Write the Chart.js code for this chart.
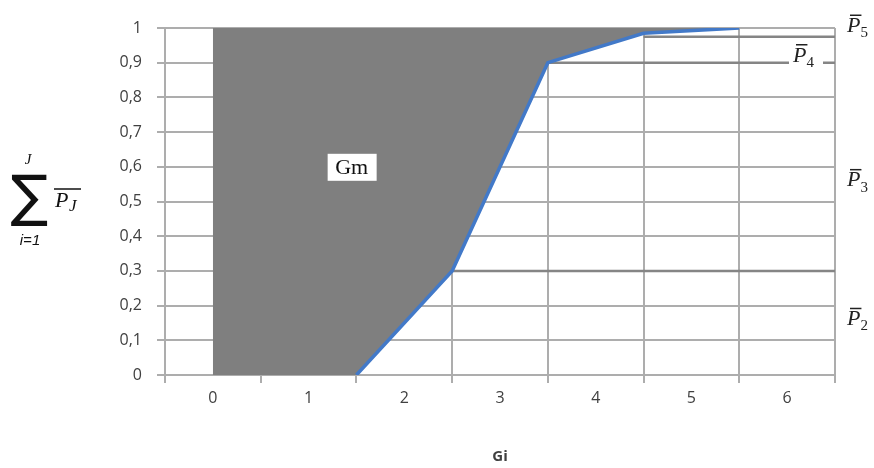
<!DOCTYPE html>
<html>
<head>
<meta charset="utf-8">
<script src="https://cdn.jsdelivr.net/npm/chart.js@4.4.0/dist/chart.umd.min.js"></script>
<style>
  html, body { margin: 0; padding: 0; background: #fff; }
</style>
</head>
<body>
<canvas id="chart" width="874" height="468"></canvas>
<script>
// categories on the Gi axis
const categories = ['0', '1', '2', '3', '4', '5', '6'];
const yTickLabels = ['0', '0,1', '0,2', '0,3', '0,4', '0,5', '0,6', '0,7', '0,8', '0,9', '1'];

// cumulative sum curve (points sit on the category boundaries)
const curveX = [1.5, 2.5, 3.5, 4.5, 5.5];
const curveY = [0, 0.3, 0.9, 0.985, 1];

// shaded Gm region, filled up to 1
const areaX = [0, 1.5, 2.5, 3.5, 4.5, 5.5];
const areaY = [0, 0, 0.3, 0.9, 0.985, 1];

// level lines for P2..P4
const levelStartX = [2.5, 3.5, 4.5];
const levelY = [0.3, 0.9, 0.975];
const levelEndX = 6.5;

// labels on the right side
const pNames = ['2', '3', '4', '5'];
const pLabelY = [0.16, 0.56, 0.92, 1.005];

const gridColor = '#adadad';
const tickColor = '#404040';

const toPoints = (xs, ys) => xs.map((x, i) => ({ x: x, y: ys[i] }));

const levelSets = levelY.map((y, i) => ({
  data: [{ x: levelStartX[i], y: y }, { x: levelEndX, y: y }],
  borderColor: '#858585',
  borderWidth: 2.5,
  pointRadius: 0,
  fill: false,
  order: 2,
  xAxisID: 'x',
  yAxisID: 'y'
}));

function drawPBar(ctx, x, y, sub) {
  ctx.save();
  ctx.font = 'italic 22px "Liberation Serif"';
  ctx.fillStyle = '#222';
  ctx.textAlign = 'left';
  ctx.textBaseline = 'middle';
  const w = ctx.measureText('P').width;
  ctx.fillText('P', x, y);
  ctx.strokeStyle = '#222';
  ctx.lineWidth = 1.5;
  ctx.beginPath();
  ctx.moveTo(x + 3, y - 11);
  ctx.lineTo(x + w + 1, y - 11);
  ctx.stroke();
  ctx.font = '15px "Liberation Serif"';
  ctx.fillText(sub, x + w, y + 7);
  ctx.restore();
}

const annotations = {
  id: 'annotations',
  afterDatasetsDraw(chart) {
    const ctx = chart.ctx;
    const xs = chart.scales.x, ys = chart.scales.y;

    // Gm label
    const gx = xs.getPixelForValue(1.45), gy = ys.getPixelForValue(0.6);
    ctx.save();
    ctx.fillStyle = '#fff';
    ctx.fillRect(gx - 24, gy - 13, 49, 27);
    ctx.fillStyle = '#111';
    ctx.font = '22px "Liberation Serif"';
    ctx.textAlign = 'center';
    ctx.textBaseline = 'middle';
    ctx.fillText('Gm', gx, gy + 1);
    ctx.restore();

    // P labels
    pNames.forEach((n, i) => {
      const py = ys.getPixelForValue(pLabelY[i]);
      if (n === '4') {
        ctx.save();
        ctx.fillStyle = '#fff';
        ctx.fillRect(xs.right - 46, py - 16, 34, 28);
        ctx.restore();
        drawPBar(ctx, xs.right - 42, py, n);
      } else {
        drawPBar(ctx, xs.right + 12, py, n);
      }
    });

    // y axis title: sum over i=1..J of P_J
    ctx.save();
    ctx.fillStyle = '#111';
    ctx.textAlign = 'center';
    ctx.textBaseline = 'middle';
    ctx.font = '56px "DejaVu Sans"';
    ctx.fillText('\u2211', 29, 200);
    ctx.font = 'italic 15px "Liberation Serif"';
    ctx.fillText('J', 28, 160);
    ctx.font = 'italic 15px "Liberation Sans"';
    ctx.fillText('i=1', 30, 241);
    ctx.font = 'italic 22px "Liberation Serif"';
    ctx.textAlign = 'left';
    ctx.fillText('P', 55, 201);
    ctx.font = 'italic 17px "Liberation Serif"';
    ctx.fillText('J', 69, 207);
    ctx.strokeStyle = '#111';
    ctx.lineWidth = 1.5;
    ctx.beginPath();
    ctx.moveTo(54, 189);
    ctx.lineTo(81, 189);
    ctx.stroke();
    ctx.restore();
  }
};

new Chart(document.getElementById('chart'), {
  type: 'line',
  data: {
    datasets: [
      {
        data: toPoints(curveX, curveY),
        borderColor: '#4279c8',
        borderWidth: 3.5,
        pointRadius: 0,
        fill: false,
        order: 1,
        xAxisID: 'x',
        yAxisID: 'y'
      },
      ...levelSets,
      {
        data: toPoints(areaX, areaY),
        borderWidth: 0,
        borderColor: '#7f7f7f',
        backgroundColor: '#7f7f7f',
        pointRadius: 0,
        fill: 'end',
        order: 3,
        xAxisID: 'x',
        yAxisID: 'y'
      }
    ]
  },
  options: {
    responsive: false,
    animation: false,
    devicePixelRatio: 1,
    layout: { padding: { top: 28, right: 39, left: 0, bottom: 0 } },
    plugins: {
      legend: { display: false },
      tooltip: { enabled: false }
    },
    scales: {
      x: { type: 'linear', display: false, min: -0.5, max: 6.5 },
      xc: {
        type: 'category',
        position: 'bottom',
        labels: categories,
        offset: true,
        grid: { offset: true, color: gridColor, lineWidth: 2, tickLength: 8 },
        border: { color: gridColor, width: 2 },
        ticks: { color: tickColor, font: { family: 'Open Sans', size: 16 }, padding: 6, maxRotation: 0 },
        title: {
          display: true,
          text: 'Gi',
          color: tickColor,
          font: { family: 'Open Sans', size: 15, weight: 'bold' },
          padding: { top: 0, bottom: 2 }
        },
        afterFit: s => { s.height = 93; }
      },
      y: {
        min: 0,
        max: 1,
        grid: { color: gridColor, lineWidth: 2, tickLength: 8 },
        border: { color: gridColor, width: 2 },
        ticks: {
          stepSize: 0.1,
          color: tickColor,
          font: { family: 'Open Sans', size: 16 },
          padding: 15,
          callback: (v, i) => yTickLabels[i]
        },
        afterFit: s => { s.width = 165; }
      }
    }
  },
  plugins: [annotations]
});
</script>
</body>
</html>
